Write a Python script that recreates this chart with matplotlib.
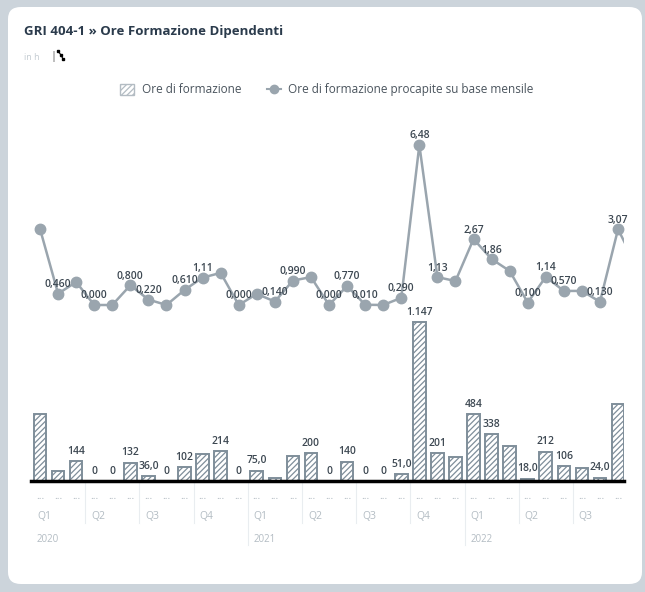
"""GRI 404-1 - ore di formazione dipendenti (mensile, 2020-2022)
"""

import matplotlib.pyplot as plt
from matplotlib.patches import FancyBboxPatch, Patch
from matplotlib.lines import Line2D
import matplotlib.transforms as mtransforms

# data (one value per month, Q1 2020 -> Q3 2022)
ore_formazione = [483, 72, 144, 0, 0, 132, 36, 0, 102, 195, 214, 0,
                  75, 20, 180, 200, 0, 140, 0, 0, 51, 1147, 201, 173,
                  484, 338, 252, 18, 212, 106, 94, 24, 556]
# per-capita monthly hours; the last value is only the line leaving the frame
ore_procapite = [3.08, 0.46, 0.93, 0, 0, 0.80, 0.22, 0, 0.61, 1.11, 1.30, 0,
                 0.45, 0.14, 0.99, 1.13, 0, 0.77, 0.01, 0, 0.29, 6.48, 1.13, 0.97,
                 2.67, 1.86, 1.38, 0.10, 1.14, 0.57, 0.57, 0.13, 3.07, 1.6]
# which values carry a label in the original (the others were hidden)
bar_labelled = [2, 3, 4, 5, 6, 7, 8, 10, 11, 12, 15, 16, 17, 18, 19, 20, 21,
                22, 24, 25, 27, 28, 29, 31]
line_labelled = [1, 3, 5, 6, 8, 9, 11, 13, 14, 16, 17, 18, 20, 21, 22, 24, 25,
                 27, 28, 29, 31, 32]
quarters = ["Q1", "Q2", "Q3", "Q4", "Q1", "Q2", "Q3", "Q4", "Q1", "Q2", "Q3"]
years = ["2020", "2021", "2022"]

plt.rcParams['font.family'] = ['Open Sans', 'DejaVu Sans']
plt.rcParams['hatch.linewidth'] = 0.9

TEXT = "#3d4852"
LIGHT = "#b3bcc3"
LINE = "#9aa5ae"
EDGE = "#7f8e9a"


def fmt_bar(v):
    if v == 0:
        return "0"
    if v < 100:
        return f"{v:.1f}".replace(".", ",")
    return f"{v:,.0f}".replace(",", ".")


def fmt_line(v):
    s = f"{v:.3f}" if v < 1 else f"{v:.2f}"
    return s.replace(".", ",")


W, H = 645, 592
fig = plt.figure(figsize=(W / 100, H / 100), dpi=100, facecolor="#ccd4db")
card = FancyBboxPatch((8 / W, 8 / H), 634 / W, 577 / H,
                      boxstyle="round,pad=0,rounding_size=0.02",
                      transform=fig.transFigure, facecolor="white",
                      edgecolor="none", zorder=-10)
fig.patches.append(card)

fig.text(24 / W, 1 - 32 / H, "GRI 404-1 » Ore Formazione Dipendenti",
         fontsize=9.5, fontweight="bold", color="#2b3b4c", va="center")
fig.text(24 / W, 1 - 57 / H, "in h", fontsize=6.5, color="#c3cbd1", va="center")
fig.text(50 / W, 1 - 56 / H, "|", fontsize=8, color="#555", va="center")
fig.add_artist(Line2D([58 / W, 61 / W, 63 / W], [1 - 51 / H, 1 - 55 / H, 1 - 59 / H],
                      transform=fig.transFigure, color="black", lw=0.8,
                      marker="s", markersize=2))

# plot area: left 31px, right 624px, top 110px, baseline at 481px
ax = fig.add_axes([31 / W, 1 - 481 / H, 593 / W, 371 / H])
ax.set_facecolor("none")
n = len(ore_formazione)
x = list(range(n))
ax.bar(x, ore_formazione, width=0.7, color="white", edgecolor=EDGE,
       linewidth=1.4, hatch="//////", zorder=2)
ax.set_xlim(-0.5, 32.33)
ax.set_ylim(0, 1147 * 371 / 159)
for i in bar_labelled:
    ax.annotate(fmt_bar(ore_formazione[i]), (i, ore_formazione[i]),
                xytext=(0, 7), textcoords="offset points", ha="center",
                va="center", fontsize=7.5, color=TEXT, fontweight="semibold")
ax.axhline(0, color="black", lw=2.5, zorder=3, clip_on=False)

ax2 = ax.twinx()
ax2.plot(range(len(ore_procapite)), ore_procapite, color=LINE, lw=1.8,
         marker="o", markersize=7.5, zorder=4)
ax2.set_ylim(-176 / 24.69, 195 / 24.69)
ax2.set_xlim(-0.5, 32.33)
for i in line_labelled:
    ax2.annotate(fmt_line(ore_procapite[i]), (i, ore_procapite[i]),
                 xytext=(0, 6.5), textcoords="offset points", ha="center",
                 va="center", fontsize=7.5, color=TEXT, fontweight="semibold",
                 zorder=5)

for a in (ax, ax2):
    a.set_xticks([])
    a.set_yticks([])
    for s in a.spines.values():
        s.set_visible(False)

# category axis: months, quarters, years
tr = mtransforms.blended_transform_factory(ax.transData, ax.transAxes)
for i in x:
    ax.text(i, -0.043, "...", transform=tr, ha="center", va="center",
            fontsize=7.5, color=LIGHT)
for q, name in enumerate(quarters):
    ax.text(q * 3 - 0.17, -0.097, name, transform=tr, ha="left", va="center",
            fontsize=7.5, color=LIGHT)
    if q > 0:
        low = -0.173 if q % 4 == 0 else -0.113
        ax.plot([q * 3 - 0.5] * 2, [-0.003, low], transform=tr, color="#e9edf0",
                lw=0.8, clip_on=False)
for k, yr in enumerate(years):
    ax.text(k * 12 - 0.17, -0.159, yr, transform=tr, ha="left", va="center",
            fontsize=7, color=LIGHT)

handles = [Patch(facecolor="white", edgecolor=LIGHT, hatch="//////", lw=1),
           Line2D([], [], color=LINE, lw=1.5, marker="o", markersize=6)]
fig.legend(handles, ["Ore di formazione", "Ore di formazione procapite su base mensile"],
           loc="center", bbox_to_anchor=(327 / W, 1 - 90 / H), ncol=2,
           frameon=False, fontsize=8.5, labelcolor="#4a545d",
           handlelength=1.2, handleheight=1.1, handletextpad=0.6,
           columnspacing=2.2)

fig.savefig("out.png", dpi=100, facecolor=fig.get_facecolor())
